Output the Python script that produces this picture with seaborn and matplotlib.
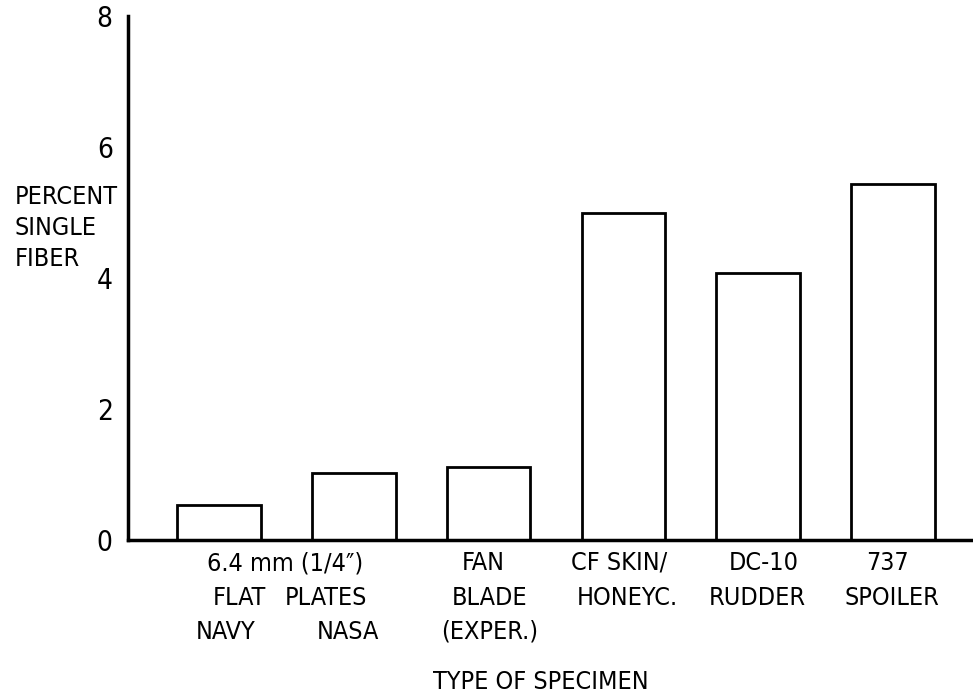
import matplotlib
matplotlib.use("Agg")
import matplotlib.pyplot as plt
import matplotlib.transforms as mtransforms
import seaborn as sns
import pandas as pd

# ---- data ----
categories = ["NAVY", "NASA", "FAN BLADE", "CF SKIN/HONEYC.", "DC-10 RUDDER", "737 SPOILER"]
values = [0.53, 1.02, 1.11, 5.00, 4.08, 5.44]
y_ticks = [0, 2, 4, 6, 8]
y_label_lines = ["PERCENT", "SINGLE", "FIBER"]
x_title = "TYPE OF SPECIMEN"

# label texts: (text, x position in category units, line row)
label_texts = [
    ("6.4 mm (1/4\u2033)", 0.49, 0),
    ("FLAT", 0.15, 1), ("PLATES", 0.79, 1),
    ("NAVY", 0.05, 2), ("NASA", 0.96, 2),
    ("FAN", 1.96, 0), ("BLADE", 2.01, 1), ("(EXPER.)", 2.01, 2),
    ("CF SKIN/", 2.97, 0), ("HONEYC.", 3.03, 1),
    ("DC-10", 4.04, 0), ("RUDDER", 3.99, 1),
    ("737", 4.96, 0), ("SPOILER", 4.99, 1),
]

sns.set_theme(style="white")
plt.rcParams["font.family"] = ["DejaVu Sans"]
plt.rcParams["font.stretch"] = "condensed"

W, H = 973, 697
fig = plt.figure(figsize=(W / 100, H / 100), dpi=100)
ax = fig.add_axes([128 / W, (H - 540) / H, 1 - 128 / W, (540 - 16) / H])

df = pd.DataFrame({"cat": categories, "val": values})
sns.barplot(data=df, x="cat", y="val", ax=ax, color="white",
            edgecolor="black", linewidth=2, width=0.62, errorbar=None,
            saturation=1)

ax.set_xlim(-0.675, 5.593)
ax.set_ylim(0, 8)
ax.set_yticks(y_ticks)
ax.set_yticklabels([str(t) for t in y_ticks], fontsize=20, stretch="condensed")
ax.set_xticks([])
ax.set_xlabel("")
ax.set_ylabel("")
for s in ["top", "right"]:
    ax.spines[s].set_visible(False)
for s in ["left", "bottom"]:
    ax.spines[s].set_linewidth(2.5)
    ax.spines[s].set_color("black")
ax.tick_params(axis="y", direction="in", length=8, width=2, pad=11, colors="black")
ax.patch.set_alpha(0)

# category labels under bars
trans = mtransforms.blended_transform_factory(ax.transData, fig.transFigure)
row_y = [563, 598, 632]
for txt, xp, row in label_texts:
    ax.text(xp, 1 - row_y[row] / H, txt, transform=trans, ha="center",
            va="center", fontsize=18, stretch="condensed", color="black")

# x-axis title
fig.text(541 / W, 1 - 682 / H, x_title, ha="center", va="center",
         fontsize=18, stretch="condensed", color="black")

# y-axis label (stacked lines, left-aligned)
for i, line in enumerate(y_label_lines):
    fig.text(15 / W, 1 - (197 + 31 * i) / H, line, ha="left", va="center",
             fontsize=18, stretch="condensed", color="black")

fig.savefig("out.png", dpi=100, facecolor="white")
